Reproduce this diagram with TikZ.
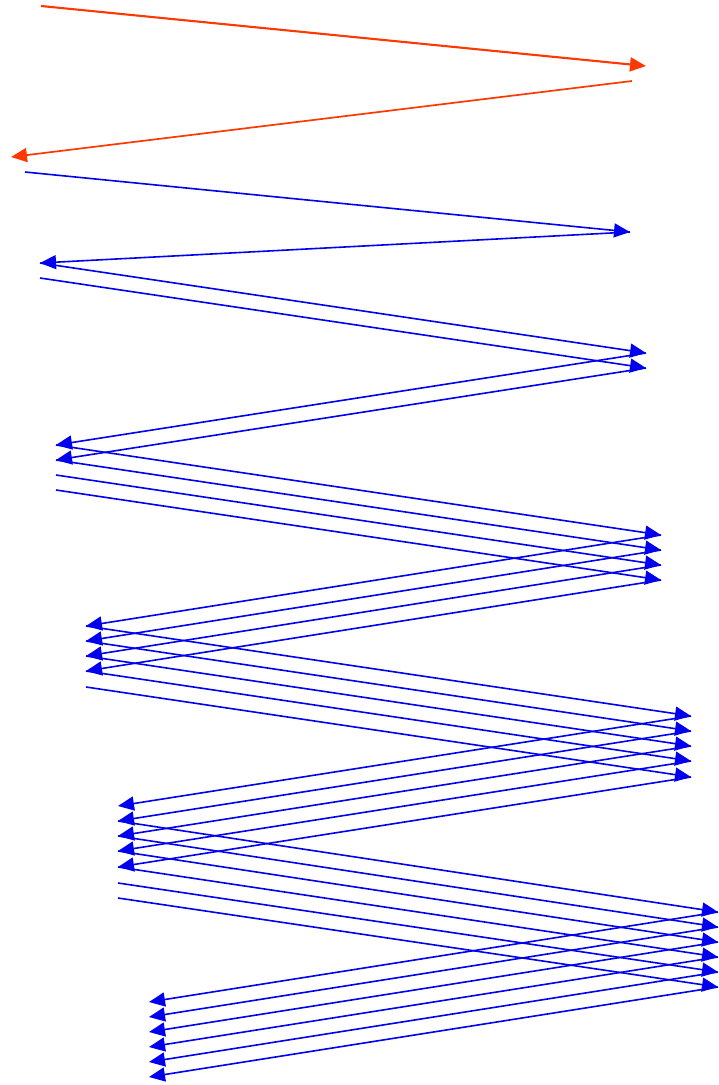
\documentclass[tikz,border=0pt]{standalone}
\usetikzlibrary{arrows.meta}
\definecolor{zzorange}{RGB}{255,56,0}
\definecolor{zzblue}{RGB}{0,0,238}
\tikzset{
  orangearrow/.style={draw=zzorange, line width=2.1pt, -{Triangle[length=16pt,width=14pt]}, line cap=butt},
  bluearrow/.style={draw=zzblue, line width=1.6pt, -{Triangle[length=16pt,width=14pt]}, line cap=butt},
}
\begin{document}
\begin{tikzpicture}[x=1pt,y=-1pt]
\useasboundingbox (0,0) rectangle (718,1085);
% orange
\coordinate (O1s) at (41,6);
\coordinate (O1t) at (646,66);
\coordinate (O2s) at (632,81);
\coordinate (O2t) at (11,157);
\draw[orangearrow] (O1s) -- (O1t);
\draw[orangearrow, line width=1.7pt] (O2s) -- (O2t);
% blue level coordinates
\coordinate (B1s) at (25,172);
\coordinate (R1) at (630,232);
\coordinate (L1a) at (40,263);
\coordinate (L1b) at (40,278);
\coordinate (R2a) at (646,353);
\coordinate (R2b) at (646,368);
\coordinate (L2a) at (56,445);
\coordinate (L2b) at (56,460);
\coordinate (L2c) at (56,475);
\coordinate (L2d) at (56,490);
\coordinate (R3a) at (661,535);
\coordinate (R3b) at (661,550);
\coordinate (R3c) at (661,565);
\coordinate (R3d) at (661,580);
\coordinate (L3a) at (86,626);
\coordinate (L3b) at (86,641);
\coordinate (L3c) at (86,656);
\coordinate (L3d) at (86,671);
\coordinate (L3e) at (86,687);
\coordinate (R4a) at (691,716);
\coordinate (R4b) at (691,731);
\coordinate (R4c) at (691,746);
\coordinate (R4d) at (691,761);
\coordinate (R4e) at (691,777);
\coordinate (L4a) at (118,806);
\coordinate (L4b) at (118,821);
\coordinate (L4c) at (118,836);
\coordinate (L4d) at (118,851);
\coordinate (L4e) at (118,867);
\coordinate (L4f) at (118,883);
\coordinate (L4g) at (118,898);
\coordinate (R5a) at (718,912);
\coordinate (R5b) at (718,927);
\coordinate (R5c) at (718,942);
\coordinate (R5d) at (718,957);
\coordinate (R5e) at (718,972);
\coordinate (R5f) at (718,987);
\coordinate (L5a) at (149,1002);
\coordinate (L5b) at (149,1017);
\coordinate (L5c) at (149,1032);
\coordinate (L5d) at (149,1047);
\coordinate (L5e) at (149,1062);
\coordinate (L5f) at (149,1077);
% blue arrows
\draw[bluearrow] (B1s) -- (R1);
\draw[bluearrow] (R1) -- (L1a);
\draw[bluearrow] (L1a) -- (R2a);
\draw[bluearrow] (L1b) -- (R2b);
\draw[bluearrow] (R2a) -- (L2a);
\draw[bluearrow] (R2b) -- (L2b);
\draw[bluearrow] (L2a) -- (R3a);
\draw[bluearrow] (L2b) -- (R3b);
\draw[bluearrow] (L2c) -- (R3c);
\draw[bluearrow] (L2d) -- (R3d);
\draw[bluearrow] (R3a) -- (L3a);
\draw[bluearrow] (R3b) -- (L3b);
\draw[bluearrow] (R3c) -- (L3c);
\draw[bluearrow] (R3d) -- (L3d);
\draw[bluearrow] (L3a) -- (R4a);
\draw[bluearrow] (L3b) -- (R4b);
\draw[bluearrow] (L3c) -- (R4c);
\draw[bluearrow] (L3d) -- (R4d);
\draw[bluearrow] (L3e) -- (R4e);
\draw[bluearrow] (R4a) -- (L4a);
\draw[bluearrow] (R4b) -- (L4b);
\draw[bluearrow] (R4c) -- (L4c);
\draw[bluearrow] (R4d) -- (L4d);
\draw[bluearrow] (R4e) -- (L4e);
\draw[bluearrow] (L4b) -- (R5a);
\draw[bluearrow] (L4c) -- (R5b);
\draw[bluearrow] (L4d) -- (R5c);
\draw[bluearrow] (L4e) -- (R5d);
\draw[bluearrow] (L4f) -- (R5e);
\draw[bluearrow] (L4g) -- (R5f);
\draw[bluearrow] (R5a) -- (L5a);
\draw[bluearrow] (R5b) -- (L5b);
\draw[bluearrow] (R5c) -- (L5c);
\draw[bluearrow] (R5d) -- (L5d);
\draw[bluearrow] (R5e) -- (L5e);
\draw[bluearrow] (R5f) -- (L5f);
\end{tikzpicture}
\end{document}
